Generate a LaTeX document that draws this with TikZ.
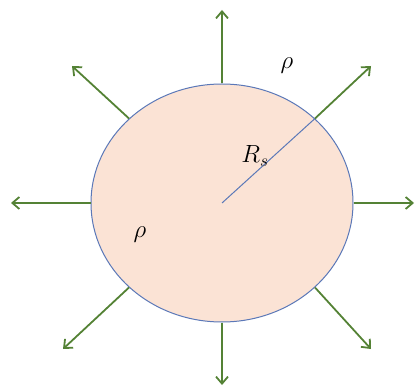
\documentclass[tikz,border=0pt]{standalone}
\usepackage{tikz}
\usetikzlibrary{shapes.geometric,arrows.meta}

\definecolor{ballfill}{HTML}{FBE3D5}
\definecolor{balledge}{HTML}{5B78B8}
\definecolor{flowgreen}{HTML}{548235}

\tikzset{
  flow/.style={draw=flowgreen, line width=1.8pt, -{Straight Barb[length=7pt,width=12pt,line width=1.8pt]}},
  lbl/.style={font=\fontsize{23}{27}\selectfont, inner sep=0pt}
}

\begin{document}
\begin{tikzpicture}[x=1pt,y=1pt]
    \useasboundingbox (0,0) rectangle (417,388);
    % Sphere
    \node[ellipse, draw=balledge, fill=ballfill, line width=1pt,
          minimum width=262pt, minimum height=238pt, inner sep=0pt] (ball) at (222,185) {};
    % Radius
    \draw[balledge, line width=1pt] (ball.center) -- (ball.north east);
    \node[lbl] (rs) at (255,232) {$R_{\scriptstyle s}$};
    % Densities
    \node[lbl] (rhoout) at (287,322) {$\rho$};
    \node[lbl] (rhoin) at (140,153) {$\rho$};
    % Arrow ends
    \coordinate (n) at (222,378);
    \coordinate (s) at (222,3);
    \coordinate (w) at (11,185);
    \coordinate (e) at (414,185);
    \coordinate (nw) at (72,322);
    \coordinate (ne) at (371,322);
    \coordinate (sw) at (63,39);
    \coordinate (se) at (371,39);
    % Outflow
    \draw[flow] (ball.north) -- (n);
    \draw[flow] (ball.south) -- (s);
    \draw[flow] (ball.west) -- (w);
    \draw[flow] (ball.east) -- (e);
    \draw[flow] (ball.north west) -- (nw);
    \draw[flow] (ball.north east) -- (ne);
    \draw[flow] (ball.south west) -- (sw);
    \draw[flow] (ball.south east) -- (se);
\end{tikzpicture}
\end{document}
